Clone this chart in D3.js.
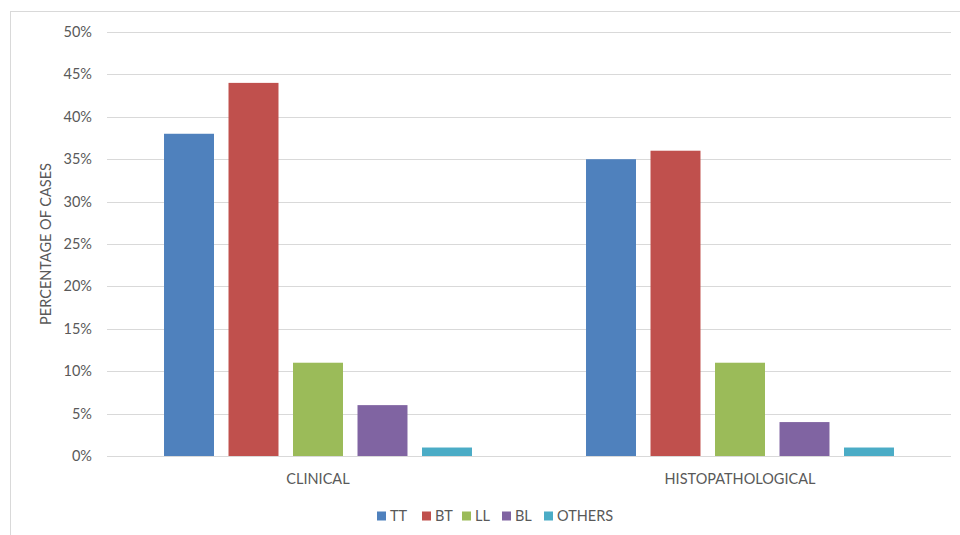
<!DOCTYPE html>
<html>
<head>
<meta charset="utf-8">
<script src="https://cdn.jsdelivr.net/npm/d3@7"></script>
<style>
  html, body { margin: 0; padding: 0; background: #fff; }
  svg { display: block; font-family: Lato, "Open Sans", sans-serif; }
</style>
</head>
<body>
<svg id="chart" width="960" height="535"></svg>
<script>
// Categories and series
const groups = ["CLINICAL", "HISTOPATHOLOGICAL"];
const seriesNames = ["TT", "BT", "LL", "BL", "OTHERS"];
const seriesColors = ["#4F81BD", "#C0504D", "#9BBB59", "#8064A2", "#4BACC6"];
// Percentage of cases per series, one value per group
const TT = [38, 35];
const BT = [44, 36];
const LL = [11, 11];
const BL = [6, 4];
const OTHERS = [1, 1];
const yTicks = [0, 5, 10, 15, 20, 25, 30, 35, 40, 45, 50];

const seriesValues = [TT, BT, LL, BL, OTHERS];

const svg = d3.select("#chart");
const margin = { left: 107, right: 9, top: 32, bottom: 79 };
const W = 960, H = 535;
const fontSize = 14.5;
const textColor = "#595959";

// outer frame
svg.append("rect")
  .attr("x", 10.5).attr("y", 11.5)
  .attr("width", 960).attr("height", 540)
  .attr("fill", "none").attr("stroke", "#d9d9d9").attr("stroke-width", 1);

const x0 = d3.scaleBand().domain(groups)
  .range([margin.left, W - margin.right]).padding(0);
const x1 = d3.scaleBand().domain(seriesNames)
  .range([0, x0.bandwidth()]).paddingInner(0.225).paddingOuter(0.884);
const y = d3.scaleLinear().domain([0, 50]).range([H - margin.bottom, margin.top]);

// gridlines
svg.append("g").selectAll("line").data(yTicks).join("line")
  .attr("x1", margin.left).attr("x2", W - margin.right)
  .attr("y1", d => Math.round(y(d)) + 0.5).attr("y2", d => Math.round(y(d)) + 0.5)
  .attr("stroke", "#d9d9d9").attr("stroke-width", 1);

// y tick labels
svg.append("g").selectAll("text").data(yTicks).join("text")
  .attr("x", 92).attr("y", d => y(d))
  .attr("dy", "0.35em").attr("text-anchor", "end")
  .attr("font-size", fontSize).attr("fill", textColor)
  .text(d => d + "%");

// y axis title
svg.append("text")
  .attr("transform", `translate(51,${(y(0) + y(50)) / 2}) rotate(-90)`)
  .attr("text-anchor", "middle")
  .attr("font-size", fontSize).attr("fill", textColor)
  .text("PERCENTAGE OF CASES");

// bars
const bars = [];
groups.forEach((g, gi) => {
  seriesNames.forEach((s, si) => {
    bars.push({ group: g, series: s, value: seriesValues[si][gi], color: seriesColors[si] });
  });
});
svg.append("g").selectAll("rect").data(bars).join("rect")
  .attr("x", d => x0(d.group) + x1(d.series))
  .attr("width", x1.bandwidth())
  .attr("y", d => y(d.value))
  .attr("height", d => y(0) - y(d.value))
  .attr("fill", d => d.color);

// category labels
svg.append("g").selectAll("text").data(groups).join("text")
  .attr("x", d => x0(d) + x0.bandwidth() / 2)
  .attr("y", y(0) + 23)
  .attr("dy", "0.35em").attr("text-anchor", "middle")
  .attr("font-size", fontSize).attr("fill", textColor)
  .text(d => d);

// legend
const legendX = [377, 422, 462, 502, 544];
const lg = svg.append("g").selectAll("g").data(seriesNames).join("g")
  .attr("transform", (d, i) => `translate(${legendX[i]},516)`);
lg.append("rect")
  .attr("x", 0).attr("y", -4.5).attr("width", 9).attr("height", 9)
  .attr("fill", (d, i) => seriesColors[i]);
lg.append("text")
  .attr("x", 13).attr("y", 0).attr("dy", "0.35em")
  .attr("font-size", fontSize).attr("fill", textColor)
  .text(d => d);
</script>
</body>
</html>
